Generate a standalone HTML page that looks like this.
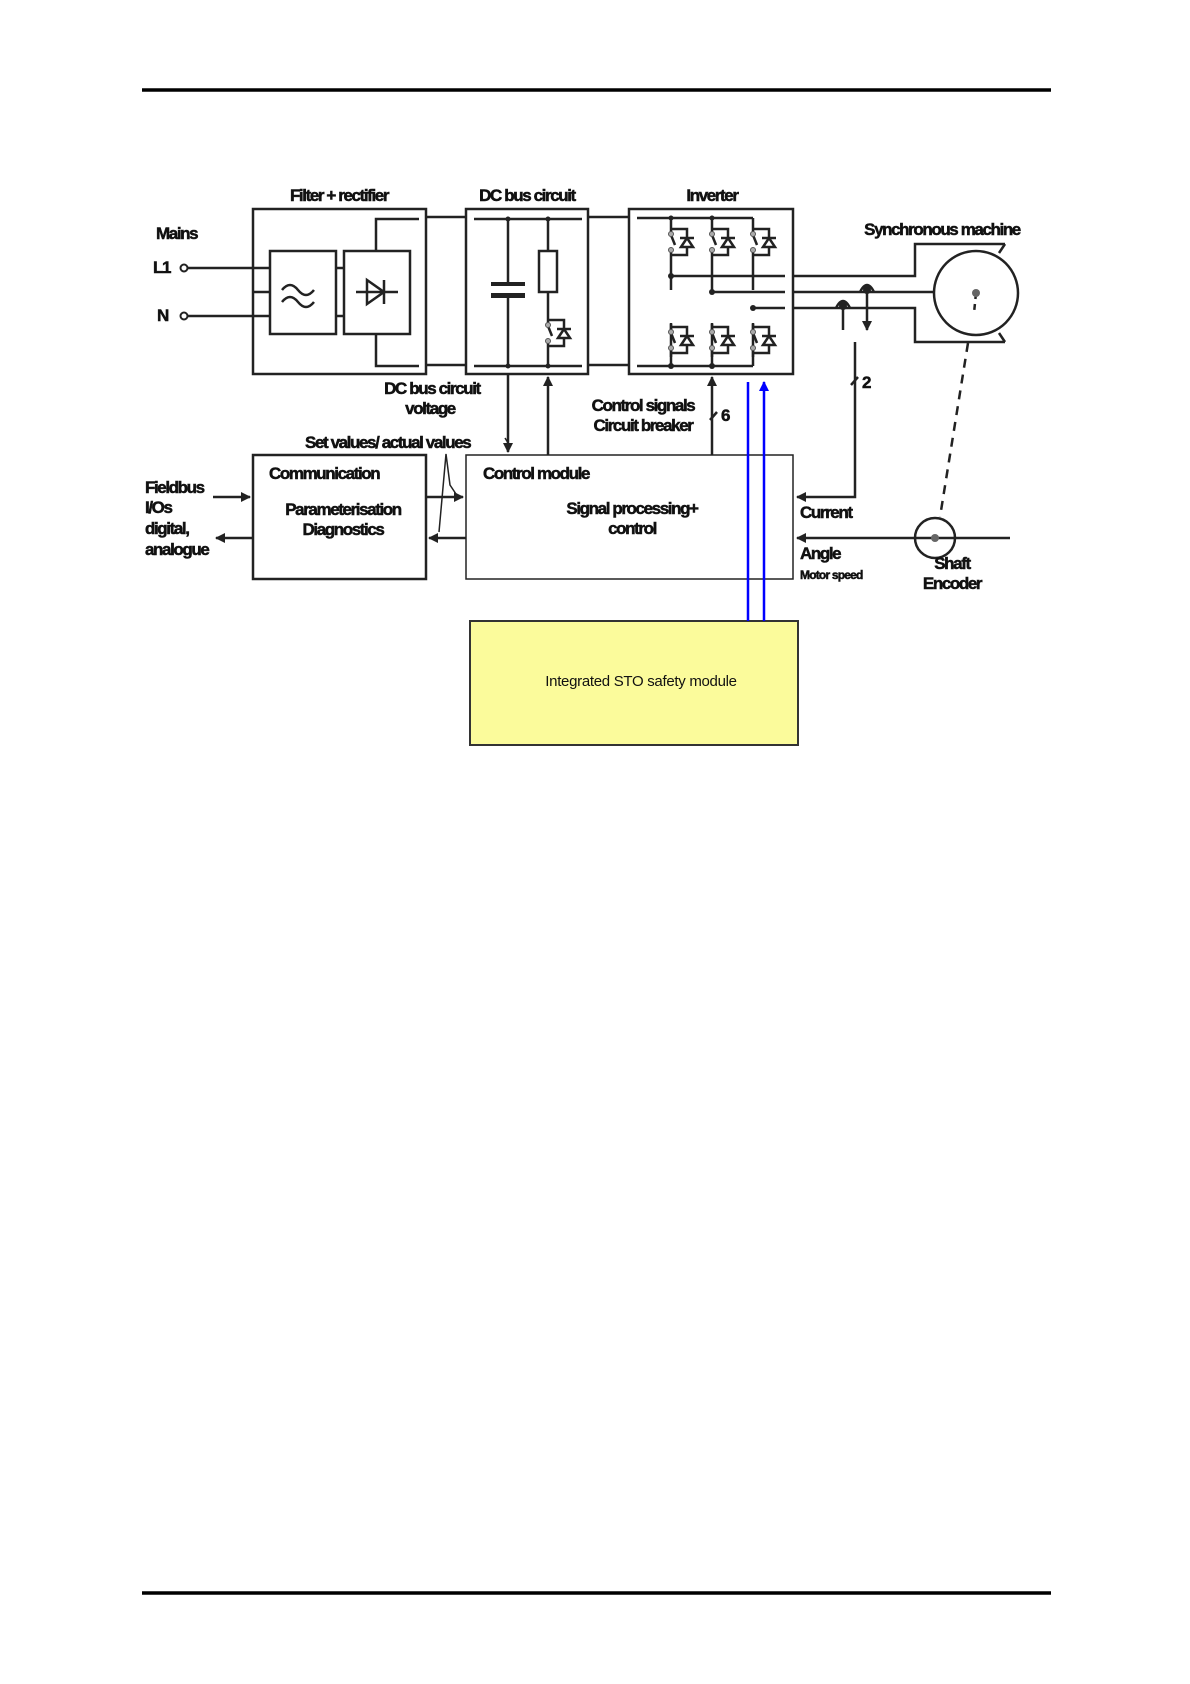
<!DOCTYPE html>
<html><head><meta charset="utf-8"><style>
html,body{margin:0;padding:0;background:#fff}
svg{display:block}
text{font-family:"Liberation Sans",Arial,sans-serif;font-weight:bold;font-size:17px;letter-spacing:-1.4px;fill:#111;stroke:#111;stroke-width:0.5px}
</style></head><body>
<svg width="1190" height="1684" viewBox="0 0 1190 1684" xmlns="http://www.w3.org/2000/svg">
<defs>
<marker id="ah" viewBox="0 0 10 10" refX="9" refY="5" markerWidth="4" markerHeight="4" orient="auto"><path d="M0,0 L10,5 L0,10 z" fill="#222"/></marker>
<marker id="ab" viewBox="0 0 10 10" refX="9" refY="5" markerWidth="4" markerHeight="4" orient="auto"><path d="M0,0 L10,5 L0,10 z" fill="#00f"/></marker>
<g id="sw" stroke="#222" stroke-width="2.5" fill="none">
<path d="M0,-17 V-13 H16 V-5 M0,-13 V-9 M0,9 V13 H16 V5 M0,13 V17"/>
<path d="M0,-7 L4,3" />
<circle cx="0" cy="-8" r="2.5" fill="#aaa" stroke="#555" stroke-width="1"/>
<circle cx="0" cy="8" r="2.5" fill="#aaa" stroke="#555" stroke-width="1"/>
<path d="M10,5 L16,-4 L22,5 Z M9,-4 H23" />
</g>
</defs>
<line x1="142" y1="90" x2="1051" y2="90" stroke="#000" stroke-width="3.5"/>
<line x1="142" y1="1593" x2="1051" y2="1593" stroke="#000" stroke-width="3.5"/>

<g stroke="#222" stroke-width="2.5" fill="none">
<!-- filter+rectifier -->
<rect x="253" y="209" width="173" height="165"/>
<rect x="270" y="251" width="66" height="83"/>
<rect x="344" y="251" width="66" height="83"/>
<path d="M187,268 H253 M187,316 H253 M253,268 H270 M253,292 H270 M253,316 H270 M336,268 H344 M336,316 H344"/>
<path d="M376,251 V219 H419 M376,334 V366 H419"/>
<path d="M282,290 q8,-10 16,0 t16,0 M282,302 q8,-10 16,0 t16,0"/>
<path d="M356,292 H398 M367,280 V304 L384,292 Z M384,280 V304"/>
<path d="M426,217 H466 M426,365 H466"/>
<!-- dc bus -->
<rect x="466" y="209" width="122" height="165"/>
<path d="M474,219 H582 M474,366 H582 M508,219 V284 M508,295 V366 M548,219 V251 M548,292 V316 M548,350 V366"/>
<rect x="539" y="251" width="18" height="41"/>
<path d="M588,217 H629 M588,365 H629"/>
<!-- inverter -->
<rect x="629" y="209" width="164" height="165"/>
<path d="M637,218 H753 M637,366 H753"/>
<path d="M671,218 V225 M671,259 V290 M671,324 V366 M712,218 V225 M712,259 V290 M712,324 V366 M753,218 V225 M753,259 V290 M753,324 V366"/>
<path d="M671,276 H785 M712,292 H785 M753,308 H785"/>
<path d="M793,276 H915 V244 H1005 M793,292 H935 M793,308 H915 V342 H1005"/>
<circle cx="976" cy="293" r="42"/>
<path d="M1005,244 L999,253 M1005,342 L999,333"/>
<path d="M836,308 q7,-14 14,0 M860,292 q7,-14 14,0" />
<path d="M843,308 V330 M867,292 V330" marker-end="url(#ah)"/>
<path d="M855,342 V497 H797" marker-end="url(#ah)"/>
<path d="M851,385 l7,-8"/>
<path d="M710,420 l7,-8"/>
<path d="M1010,538 H797" marker-end="url(#ah)"/>
<circle cx="935" cy="538" r="20"/>
<path d="M968,343 L940,517" stroke-dasharray="9,7"/>
<path d="M976,293 L974,313" stroke-dasharray="6,5"/>
<!-- lower boxes -->
<rect x="253" y="455" width="173" height="124"/>
<rect x="466" y="455" width="327" height="124" stroke-width="1.5"/>
<path d="M508,374 V452" marker-end="url(#ah)"/>
<path d="M548,455 V377" marker-end="url(#ah)"/>
<path d="M712,455 V377" marker-end="url(#ah)"/>
<path d="M213,497 H250" marker-end="url(#ah)"/>
<path d="M253,538 H216" marker-end="url(#ah)"/>
<path d="M426,497 H463" marker-end="url(#ah)"/>
<path d="M466,538 H429" marker-end="url(#ah)"/>
<path d="M439,532 L446,454 L450,485 L458,497" stroke-width="1.5"/>
<path d="M505,438 L510,446" stroke-width="1.5"/>
</g>
<g fill="#222">
<rect x="491" y="282" width="34" height="4"/><rect x="491" y="293" width="34" height="5"/>
<circle cx="508" cy="219" r="2.5"/><circle cx="548" cy="219" r="2.5"/><circle cx="508" cy="366" r="2.5"/><circle cx="548" cy="366" r="2.5"/>
<circle cx="671" cy="218" r="2.5"/><circle cx="712" cy="218" r="2.5"/><circle cx="671" cy="366" r="3"/><circle cx="712" cy="366" r="3"/>
<circle cx="671" cy="276" r="3"/><circle cx="712" cy="292" r="3"/><circle cx="753" cy="308" r="3"/>
<circle cx="843" cy="306" r="4"/><circle cx="867" cy="290" r="4"/>
<circle cx="976" cy="293" r="4" fill="#666"/><circle cx="935" cy="538" r="4" fill="#666"/>
</g>
<circle cx="184" cy="268" r="3.5" fill="#fff" stroke="#222" stroke-width="2"/>
<circle cx="184" cy="316" r="3.5" fill="#fff" stroke="#222" stroke-width="2"/>
<use href="#sw" x="548" y="333"/>
<use href="#sw" x="671" y="242"/><use href="#sw" x="712" y="242"/><use href="#sw" x="753" y="242"/>
<use href="#sw" x="671" y="340"/><use href="#sw" x="712" y="340"/><use href="#sw" x="753" y="340"/>

<!-- STO -->
<rect x="470" y="621" width="328" height="124" fill="#fbfb9b" stroke="#333" stroke-width="2"/>
<path d="M748,621 V382 M764,621 V382" stroke="#00f" stroke-width="2.5" marker-end="url(#ab)"/>
<text x="641" y="686" text-anchor="middle" style="font-weight:normal;letter-spacing:-0.3px;font-size:15px;stroke:none">Integrated STO safety module</text>

<text x="339" y="201" text-anchor="middle">Filter + rectifier</text>
<text x="527" y="201" text-anchor="middle">DC bus circuit</text>
<text x="712" y="201" text-anchor="middle">Inverter</text>
<text x="942" y="235" text-anchor="middle">Synchronous machine</text>
<text x="156" y="239">Mains</text>
<text x="153" y="273">L1</text>
<text x="157" y="321">N</text>
<text x="432" y="394" text-anchor="middle">DC bus circuit</text>
<text x="430" y="414" text-anchor="middle">voltage</text>
<text x="643" y="411" text-anchor="middle">Control signals</text>
<text x="643" y="431" text-anchor="middle">Circuit breaker</text>
<text x="721" y="421">6</text>
<text x="862" y="388">2</text>
<text x="305" y="448">Set values/ actual values</text>
<text x="269" y="479">Communication</text>
<text x="343" y="515" text-anchor="middle">Parameterisation</text>
<text x="343" y="535" text-anchor="middle">Diagnostics</text>
<text x="483" y="479">Control module</text>
<text x="632" y="514" text-anchor="middle">Signal processing+</text>
<text x="632" y="534" text-anchor="middle">control</text>
<text x="145" y="493">Fieldbus</text>
<text x="145" y="513">I/Os</text>
<text x="145" y="534">digital,</text>
<text x="145" y="555">analogue</text>
<text x="800" y="518">Current</text>
<text x="800" y="559">Angle</text>
<text x="800" y="579" style="font-size:12px;letter-spacing:-0.8px">Motor speed</text>
<text x="952" y="569" text-anchor="middle">Shaft</text>
<text x="952" y="589" text-anchor="middle">Encoder</text>
</svg>
</body></html>
